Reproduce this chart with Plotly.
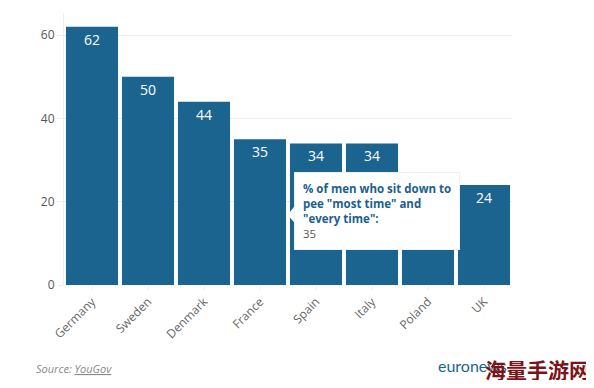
import plotly.graph_objects as go

countries = ["Germany", "Sweden", "Denmark", "France", "Spain", "Italy", "Poland", "UK"]
share_sitting = [62, 50, 44, 35, 34, 34, 25, 24]
y_ticks = [0, 20, 40, 60]

bar_color = "#1b6490"
font_family = "Open Sans, Noto Sans, sans-serif"

fig = go.Figure()
fig.add_trace(go.Bar(
    x=countries,
    y=share_sitting,
    marker=dict(color=bar_color, line=dict(width=0)),
    text=[str(v) for v in share_sitting],
    textposition="inside",
    insidetextanchor="end",
    textangle=0,
    textfont=dict(color="white", size=14, family=font_family),
    hoverinfo="skip",
))

# tooltip-like callout
fig.add_shape(type="path", xref="paper", yref="paper",
              path="M 0.518 0.296 L 0.499 0.258 L 0.518 0.222 Z",
              fillcolor="white", line=dict(width=0), layer="above")
fig.add_annotation(
    xref="paper", yref="paper", x=0.513, y=0.415, xanchor="left", yanchor="top",
    text=('<b>% of men who sit down to<br>pee "most time" and<br>"every time":</b><br>'
          '<span style="color:#555555">35</span>'),
    showarrow=False, align="left", bgcolor="white", borderpad=8, width=148,
    bordercolor="#f0f0f0", borderwidth=1,
    font=dict(color="#1b5f8c", size=11.5, family=font_family),
)

fig.add_annotation(
    xref="paper", yref="paper", x=-0.068, y=-0.308, xanchor="left", yanchor="middle",
    text="<i>Source: <u>YouGov</u></i>", showarrow=False,
    font=dict(color="#888888", size=11, family="Liberation Sans Narrow, Open Sans, sans-serif"),
)
fig.add_annotation(
    xref="paper", yref="paper", x=0.83, y=-0.295, xanchor="left", yanchor="middle",
    text="euronews.", showarrow=False,
    font=dict(color="#1b6490", size=16, family="Lato, Open Sans, sans-serif"),
)
fig.add_annotation(
    xref="paper", yref="paper", x=0.935, y=-0.308, xanchor="left", yanchor="middle",
    text="<b>海量手游网</b>", showarrow=False,
    font=dict(color="#7a1418", size=21, family="Noto Sans CJK SC"),
)

# page body has an 8px margin, so the figure is sized to fit inside it
fig.update_layout(
    width=578, height=372,
    margin=dict(l=56, r=74, t=5, b=95, autoexpand=False),
    paper_bgcolor="white", plot_bgcolor="white",
    bargap=0.07,
    showlegend=False,
    font=dict(family=font_family, color="#555555"),
    xaxis=dict(tickangle=-45, tickfont=dict(size=12, color="#666666"),
               showgrid=False, showline=False, ticks="outside", ticklen=4,
               tickcolor="#eeeeee", automargin=False),
    yaxis=dict(range=[0, 65.3], tickvals=y_ticks, tickfont=dict(size=12, color="#555555"),
               showgrid=True, gridcolor="#ececec", zeroline=False,
               showline=True, linecolor="#eeeeee", ticks="outside", ticklen=6,
               tickcolor="#eeeeee", automargin=False),
)

fig.write_html("out.html")
